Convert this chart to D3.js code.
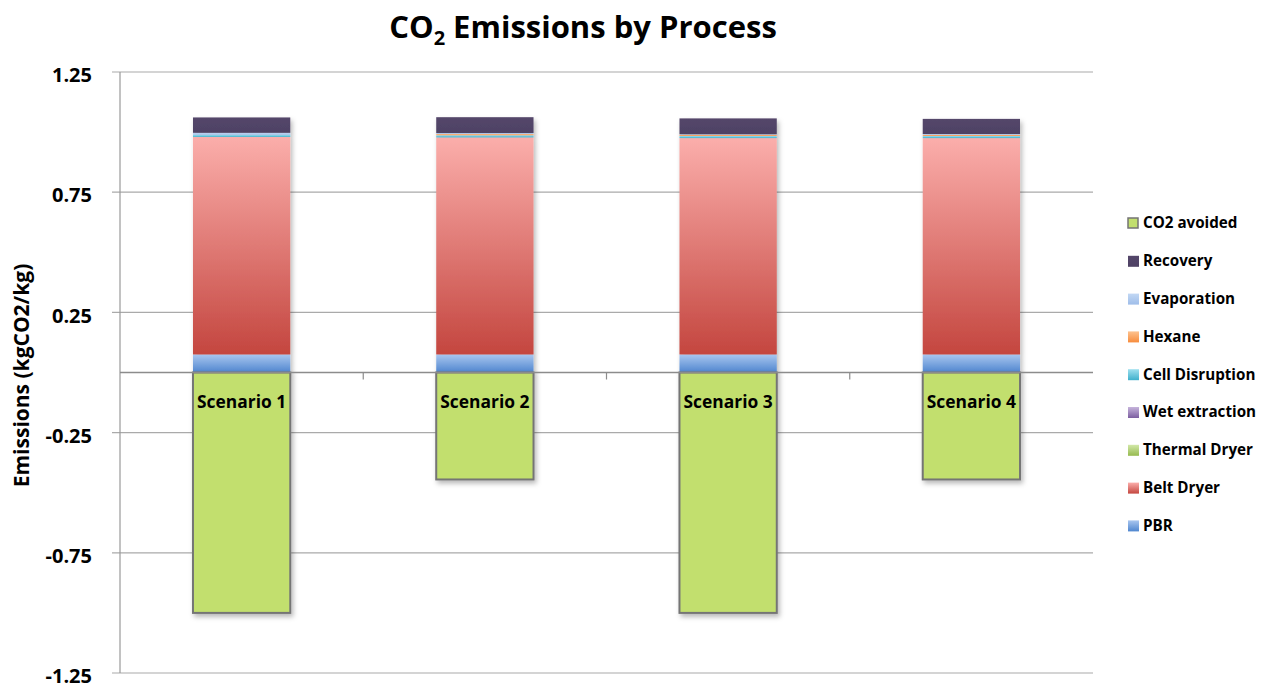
<!DOCTYPE html>
<html>
<head>
<meta charset="utf-8">
<script src="https://cdn.jsdelivr.net/npm/d3@7"></script>
<style>
  html, body { margin: 0; padding: 0; background: #fff; }
  svg { display: block; font-family: "Open Sans", "Lato", sans-serif; }
</style>
</head>
<body>
<svg id="chart" width="1266" height="689"></svg>
<script>
// Emissions per process step (kgCO2/kg), stacked bottom to top
const scenarios = ["Scenario 1", "Scenario 2", "Scenario 3", "Scenario 4"];
const pbr            = [0.075, 0.075, 0.075, 0.075];
const beltDryer      = [0.905, 0.903, 0.900, 0.900];
const thermalDryer   = [0, 0, 0, 0];
const wetExtraction  = [0, 0, 0, 0];
const cellDisruption = [0.009, 0.009, 0.009, 0.009];
const hexane         = [0, 0.005, 0.005, 0.005];
const evaporation    = [0.008, 0.004, 0.002, 0.003];
const recovery       = [0.064, 0.066, 0.066, 0.063];
const co2Avoided     = [-1.0, -0.445, -1.0, -0.445];
const yTickValues    = [1.25, 0.75, 0.25, -0.25, -0.75, -1.25];

const positiveSeries = [
  { name: "PBR",             values: pbr,            top: "#a9c6ef", bottom: "#4f86cf" },
  { name: "Belt Dryer",      values: beltDryer,      top: "#fbaeab", bottom: "#c4463f" },
  { name: "Thermal Dryer",   values: thermalDryer,   top: "#d2e8a8", bottom: "#96ba4f" },
  { name: "Wet extraction",  values: wetExtraction,  top: "#c6b4dc", bottom: "#7c5ea0" },
  { name: "Cell Disruption", values: cellDisruption, top: "#9fe0ef", bottom: "#3fb0cc" },
  { name: "Hexane",          values: hexane,         top: "#fdc28f", bottom: "#f78c3c" },
  { name: "Evaporation",     values: evaporation,    top: "#c2d8f4", bottom: "#9fbde9" },
  { name: "Recovery",        values: recovery,       top: "#54466a", bottom: "#4e4264" }
];

const legendOrder = ["CO2 avoided", "Recovery", "Evaporation", "Hexane", "Cell Disruption",
                     "Wet extraction", "Thermal Dryer", "Belt Dryer", "PBR"];

const svg = d3.select("#chart");
const margin = { left: 120, right: 173, top: 72, bottom: 16 };
const W = 1266, H = 689;

const x = d3.scaleBand().domain(scenarios).range([margin.left, W - margin.right]).paddingInner(0.6).paddingOuter(0.3);
const xCat = d3.scaleBand().domain(scenarios).range([margin.left, W - margin.right]);
const y = d3.scaleLinear().domain([-1.25, 1.25]).range([H - margin.bottom, margin.top]);

// Gradients and shadow
const defs = svg.append("defs");
positiveSeries.forEach((s, i) => {
  const g = defs.append("linearGradient").attr("id", "grad" + i)
    .attr("x1", 0).attr("y1", 0).attr("x2", 0).attr("y2", 1);
  g.append("stop").attr("offset", "0%").attr("stop-color", s.top);
  g.append("stop").attr("offset", "100%").attr("stop-color", s.bottom);
});
const shadow = defs.append("filter").attr("id", "shadow")
  .attr("x", "-10%").attr("y", "-10%").attr("width", "130%").attr("height", "130%");
shadow.append("feDropShadow").attr("dx", 2).attr("dy", 3).attr("stdDeviation", 2.5)
  .attr("flood-color", "#000").attr("flood-opacity", 0.28);

// Title
const title = svg.append("text").attr("x", 583).attr("y", 38).attr("text-anchor", "middle")
  .attr("font-size", 31).attr("font-weight", "bold").attr("fill", "#000");
title.append("tspan").text("CO");
title.append("tspan").attr("font-size", 20).attr("dy", 7).text("2");
title.append("tspan").attr("dy", -7).text(" Emissions by Process");

// Gridlines and y tick labels
const grid = svg.append("g");
yTickValues.forEach(v => {
  grid.append("line").attr("x1", margin.left - 8).attr("x2", W - margin.right)
    .attr("y1", y(v)).attr("y2", y(v)).attr("stroke", "#aaaaaa").attr("stroke-width", 1.2);
  svg.append("text").attr("x", 92).attr("y", y(v) + 3).attr("dy", "0.36em")
    .attr("text-anchor", "end").attr("font-size", 20).attr("font-weight", "bold").text(v.toFixed(2));
});

// Y axis line
svg.append("line").attr("x1", margin.left).attr("x2", margin.left)
  .attr("y1", y(1.25)).attr("y2", y(-1.25)).attr("stroke", "#999").attr("stroke-width", 1.2);

// Y axis title
svg.append("text").attr("transform", `translate(29, ${y(0) + 3}) rotate(-90)`)
  .attr("text-anchor", "middle").attr("font-size", 21).attr("font-weight", "bold")
  .text("Emissions (kgCO2/kg)");

// Stacked positive bars
const stacked = svg.append("g").attr("filter", "url(#shadow)");
scenarios.forEach((sc, j) => {
  let base = 0;
  positiveSeries.forEach((s, i) => {
    const v = s.values[j];
    if (v > 0) {
      stacked.append("rect").attr("x", x(sc)).attr("width", x.bandwidth())
        .attr("y", y(base + v)).attr("height", y(base) - y(base + v))
        .attr("fill", `url(#grad${i})`);
    }
    base += v;
  });
});

// CO2 avoided (negative) bars
const neg = svg.append("g").attr("filter", "url(#shadow)");
scenarios.forEach((sc, j) => {
  neg.append("rect").attr("x", x(sc)).attr("width", x.bandwidth())
    .attr("y", y(0)).attr("height", y(co2Avoided[j]) - y(0))
    .attr("fill", "#c2df6e").attr("stroke", "#747474").attr("stroke-width", 2);
});

// Category axis at zero
const xAxis = svg.append("g").attr("transform", `translate(0, ${y(0)})`);
xAxis.append("line").attr("x1", margin.left).attr("x2", W - margin.right)
  .attr("stroke", "#8c8c8c").attr("stroke-width", 1.5);
scenarios.slice(1).forEach(sc => {
  xAxis.append("line").attr("x1", xCat(sc)).attr("x2", xCat(sc)).attr("y1", 0).attr("y2", 7)
    .attr("stroke", "#8c8c8c").attr("stroke-width", 1.2);
});
scenarios.forEach(sc => {
  xAxis.append("text").attr("x", x(sc) + x.bandwidth() / 2).attr("y", 35)
    .attr("text-anchor", "middle").attr("font-size", 17.4).attr("font-weight", "bold").text(sc);
});

// Legend
const legend = svg.append("g");
legendOrder.forEach((name, k) => {
  const ly = 223 + k * 37.8;
  const row = legend.append("g").attr("transform", `translate(1128, ${ly})`);
  if (name === "CO2 avoided") {
    row.append("rect").attr("x", 0).attr("y", -5).attr("width", 10).attr("height", 10)
      .attr("fill", "#c2df6e").attr("stroke", "#747474").attr("stroke-width", 1.5);
  } else {
    const i = positiveSeries.findIndex(s => s.name === name);
    row.append("rect").attr("x", 0).attr("y", -5).attr("width", 11).attr("height", 11)
      .attr("fill", `url(#grad${i})`);
  }
  row.append("text").attr("x", 15).attr("y", 0).attr("dy", "0.36em")
    .attr("font-size", 15.2).attr("font-weight", "bold").text(name);
});
</script>
</body>
</html>
